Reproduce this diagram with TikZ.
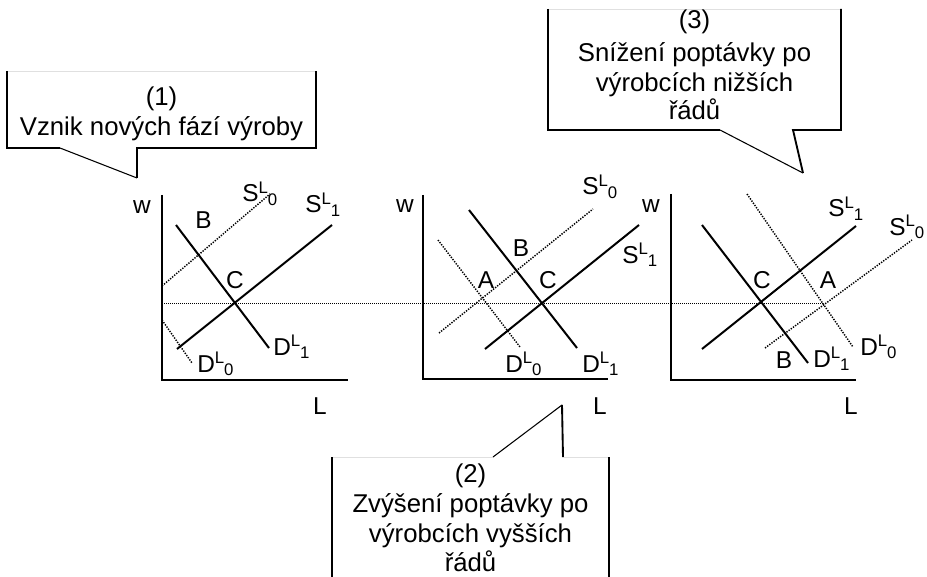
\documentclass[tikz,border=0pt]{standalone}
\usepackage{fontspec}
\setmainfont{Liberation Sans}
% curve name with superscript L and an index
\newcommand\curvelabel[2]{#1\raisebox{6.3pt}{\fontsize{12.6}{14}\selectfont L}\raisebox{-2.4pt}{\fontsize{12.6}{14}\selectfont #2}}
\begin{document}
\begin{tikzpicture}[x=0.75pt,y=-0.75pt,
  axis/.style={line width=1.6pt},
  curve/.style={line width=1.5pt},
  oldcurve/.style={line width=1.1pt, dash pattern=on 1pt off 1pt},
  level/.style={line width=0.75pt, dash pattern=on 0.75pt off 0.75pt},
  side/.style={line width=1.4pt},
  rim/.style={line width=0.6pt, draw=black!12},
  tail/.style={line width=0.8pt},
  note/.style={align=center, font=\fontsize{19.3}{22.5}\selectfont, inner sep=0pt, anchor=north},
  lbl/.style={font=\fontsize{18.3}{21}\selectfont, inner sep=0pt},
]
\useasboundingbox (0,0) rectangle (927,577);

% ---------- callout (1) ----------
\draw[rim] (7,71) -- (316,71);
\draw[side] (7,71) -- (7,148) -- (60,148);
\draw[tail] (60,148) -- (137,178);
\draw[side] (137,178) -- (137,148) -- (316,148) -- (316,71);
\node[note] (n1) at (161.5,87) {(1)\\Vznik nových fází výroby};

% ---------- callout (3) ----------
\draw[rim] (548,9) -- (841,9);
\draw[side] (548,9) -- (548,130) -- (720,130);
\draw[tail] (720,130) -- (803,173);
\draw[side] (803,173) -- (793,130) -- (841,130) -- (841,9);
\node[note] (n3) at (694.5,10) {(3)\\[2pt]Snížení poptávky po\\výrobcích nižších\\[-1.5pt]řádů};

% ---------- callout (2) ----------
\draw[rim] (332,457) -- (493,457);
\draw[rim] (563,457) -- (609,457);
\draw[tail] (493,457) -- (562,405);
\draw[side] (562,405) -- (563,457);
\draw[side] (332,457) -- (332,577);
\draw[side] (609,457) -- (609,577);
\node[note] (n2) at (470.5,464) {(2)\\Zvýšení poptávky po\\výrobcích vyšších\\[-1pt]řádů};

% ---------- common wage level ----------
\draw[level] (162,303) -- (823,303);

% ---------- panel 1 ----------
\draw[axis] (162,195) -- (162,380) -- (348,380);
\draw[oldcurve] (162,286) -- (270,194);
\draw[oldcurve] (162,320) -- (192,363);
\draw[curve] (176,225) -- (269,348);
\draw[curve] (177,349) -- (332,225);
\node[lbl,anchor=base] (w1) at (142,214) {w};
\node[lbl,anchor=base] (L1) at (320,414) {L};
\node[lbl,anchor=base west] (s01) at (242,202) {\curvelabel{S}{0}};
\node[lbl,anchor=base west] (s11) at (305,213) {\curvelabel{S}{1}};
\node[lbl] (b1) at (203.5,220.5) {B};
\node[lbl] (c1) at (235,280) {C};
\node[lbl,anchor=base west] (d11) at (273,355) {\curvelabel{D}{1}};
\node[lbl,anchor=base west] (d01) at (197,372) {\curvelabel{D}{0}};

% ---------- panel 2 ----------
\draw[axis] (423,195) -- (423,379) -- (608,379);
\draw[oldcurve] (439,333) -- (593,209);
\draw[oldcurve] (438,240) -- (520,347);
\draw[curve] (469,210) -- (577,348);
\draw[curve] (485,349) -- (639,225);
\node[lbl,anchor=base] (w2) at (405,213) {w};
\node[lbl,anchor=base] (L2) at (600,414) {L};
\node[lbl,anchor=base west] (s02) at (582,195) {\curvelabel{S}{0}};
\node[lbl,anchor=base west] (s12) at (622,263) {\curvelabel{S}{1}};
\node[lbl] (b2) at (521,248) {B};
\node[lbl] (a2) at (486,280) {A};
\node[lbl] (c2) at (548,280) {C};
\node[lbl,anchor=base west] (d02) at (505,372) {\curvelabel{D}{0}};
\node[lbl,anchor=base west] (d12) at (582,372) {\curvelabel{D}{1}};

% ---------- panel 3 ----------
\draw[axis] (671,194) -- (671,380) -- (856,380);
\draw[oldcurve] (747,194) -- (853,347);
\draw[oldcurve] (765,348) -- (912,240);
\draw[curve] (702,225) -- (808,363);
\draw[curve] (702,349) -- (856,226);
\node[lbl,anchor=base] (w3) at (651,213) {w};
\node[lbl,anchor=base] (L3) at (851,414) {L};
\node[lbl,anchor=base west] (s13) at (828,217) {\curvelabel{S}{1}};
\node[lbl,anchor=base west] (s03) at (889,235) {\curvelabel{S}{0}};
\node[lbl] (c3) at (762,280) {C};
\node[lbl] (a3) at (828,280) {A};
\node[lbl] (b3) at (784,360) {B};
\node[lbl,anchor=base west] (d13) at (813,367) {\curvelabel{D}{1}};
\node[lbl,anchor=base west] (d03) at (860,355) {\curvelabel{D}{0}};
\end{tikzpicture}
\end{document}
